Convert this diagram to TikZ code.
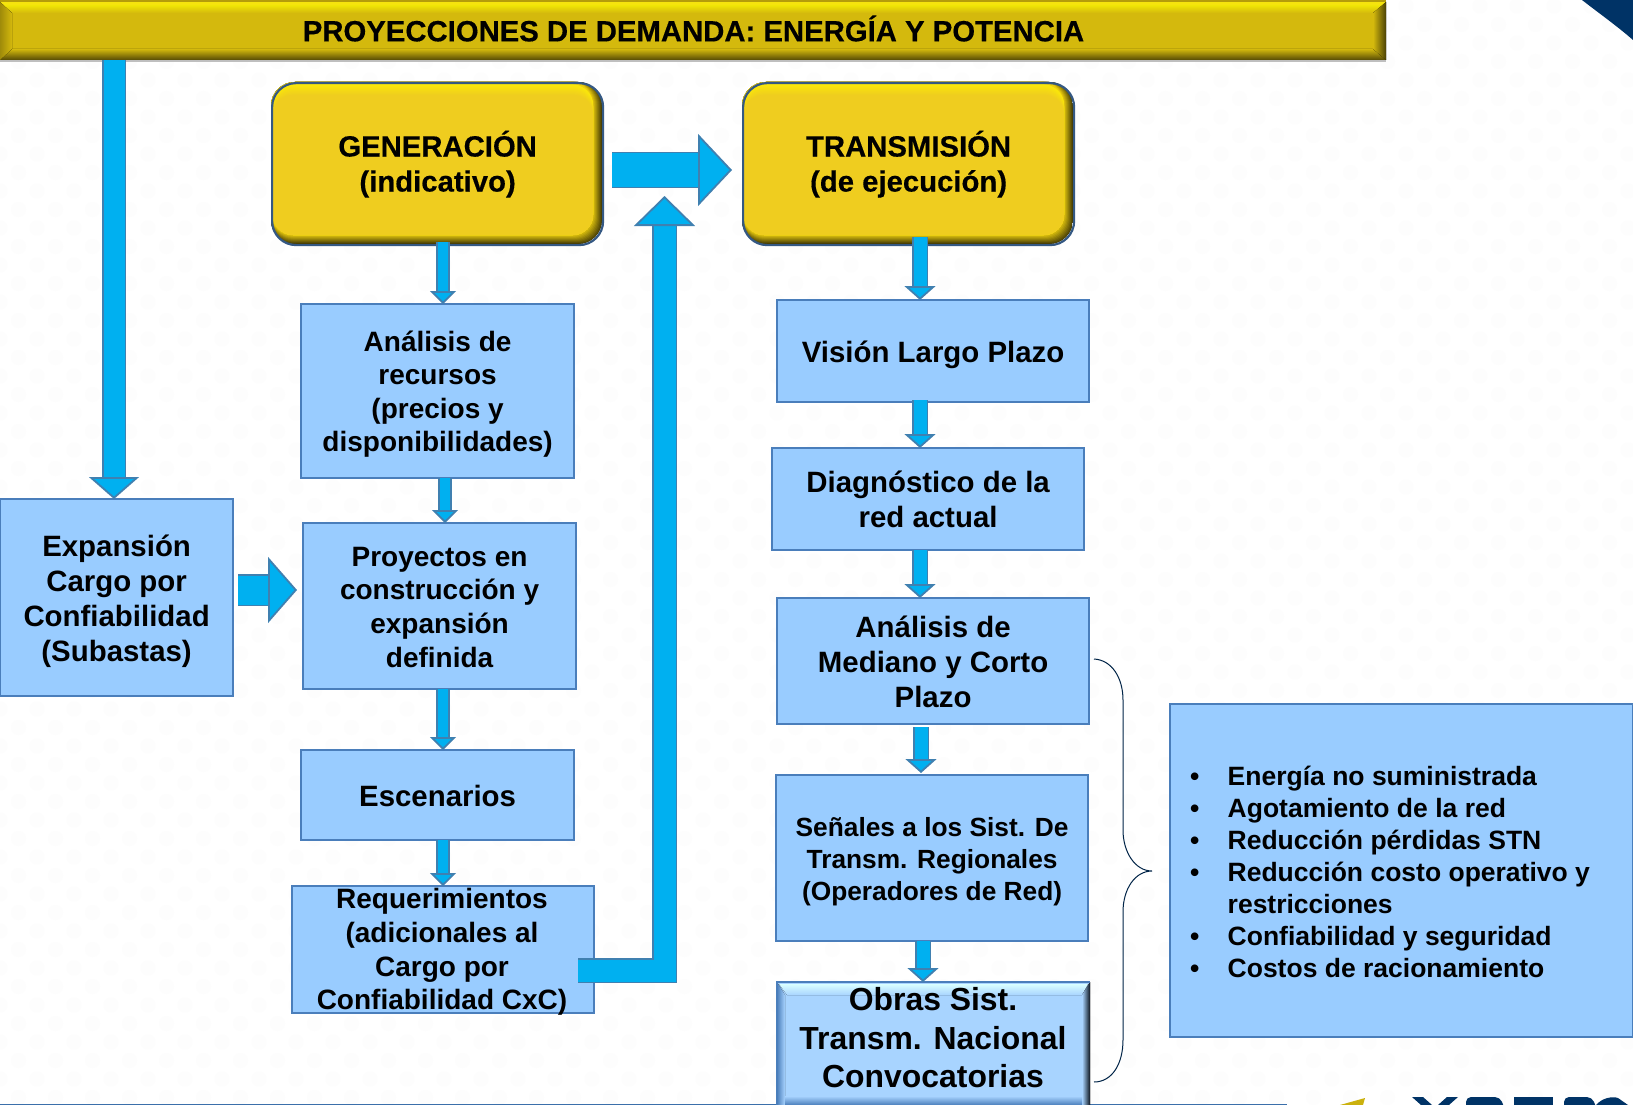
\documentclass[tikz,border=0pt]{standalone}
\usepackage{fontspec}
\setmainfont{Liberation Sans}
\newfontfamily\heavyfont{Liberation Sans}[BoldFeatures={FakeBold=0.35}]
\usetikzlibrary{arrows.meta,shadings,calc,positioning}
\definecolor{boxfill}{HTML}{99CCFF}
\definecolor{boxline}{HTML}{4A7EBB}
\definecolor{arrowfill}{HTML}{00B0F0}
\definecolor{arrowline}{HTML}{4080B0}
\definecolor{navy}{HTML}{003366}
\definecolor{titlefill}{HTML}{D4B90D}
\definecolor{genfill}{HTML}{EFD00F}
\tikzset{
  px/.style={x=1pt,y=-1pt},
  bluebox/.style={draw=boxline,fill=boxfill,line width=2.2pt,text=black,align=center,
     font=\fontsize{29.4}{35}\selectfont\bfseries,inner sep=0pt,anchor=north west,xshift=-1pt,yshift=1pt},
  block/.style n args={3}{draw=arrowline,line width=1.8pt,double=arrowfill,double distance=#1,
     line join=miter,-{Triangle[length=#2,width=#3,fill=arrowfill,color=arrowline,line width=1.8pt]}},
  smallarrow/.style={block={10pt}{13pt}{26pt}},
  midarrow/.style={block={13pt}{14pt}{31pt}},
  yellowtext/.style={align=center,font=\heavyfont\fontsize{29.3}{35}\selectfont\bfseries,text=black,inner sep=0pt},
  yellowbox/.style={draw=boxline!70!black,line width=2.2pt,rounded corners=24pt,minimum width=331pt,minimum height=162pt,anchor=north west,yellowtext},
}
% first line of a box, lowered: the whole text block moves down by half of #1
\newcommand{\pushdown}[2]{\setbox0=\hbox{#2}\rule{0pt}{\dimexpr\ht0+#1pt\relax}#2}
% bevelled rounded yellow face: x1 y1 x2 y2
\newcommand{\bevelface}[4]{%
  \begin{scope}
  \clip[rounded corners=24pt] (#1,#2) rectangle (#3,#4);
  \fill[black!70!genfill] (#1,#2) rectangle (#3,#4);
  \foreach \k in {0,...,9}{
    \pgfmathsetmacro{\mixv}{30+\k*7.7}
    \fill[genfill!\mixv!black,rounded corners=22pt] (#1,#2) rectangle ({#3-\k},{#4-\k});
  }
  \fill[yellow!70!genfill,rounded corners=22pt] (#1+2,#2+2) rectangle (#3-9,#4-9);
  \foreach \k in {0,...,9}{
    \pgfmathsetmacro{\mixv}{70-\k*7.7}
    \fill[yellow!\mixv!genfill,rounded corners=20pt] (#1+2,{#2+3+\k*1.1}) rectangle (#3-9,#4-9);
  }
  \end{scope}}
\begin{document}
\begin{tikzpicture}[px]
\useasboundingbox (0,0) rectangle (1633,1105);
\fill[white] (0,0) rectangle (1633,1105);
% faint dot texture of the slide background
\fill[black!0.8]
  \foreach \i in {0,...,59}{\foreach \j in {0,...,44}{
    ({\j*37+18.5*mod(\i,2)},{6+\i*18.5}) circle (7.5)}};
% corner and logo fragments
\fill[navy] (1582,0) .. controls (1600,14) and (1617,26) .. (1633,40) -- (1633,0) -- cycle;
\fill[navy!20!boxline] (0,1103.5) rectangle (1287,1105);
\begin{scope}
\clip (1290,1085) rectangle (1633,1105);
\fill[genfill!85!black] (1365,1098) -- (1363,1105) -- (1340,1105) -- cycle;
\fill[navy] (1412,1097) -- (1423,1097) -- (1432,1105) -- (1421,1105) -- cycle;
\fill[navy] (1458,1097) -- (1447,1097) -- (1438,1105) -- (1449,1105) -- cycle;
\fill[navy,rounded corners=5pt] (1466,1097) -- (1500,1097) -- (1506,1112) -- (1466,1112) -- cycle;
\fill[navy] (1514,1097) rectangle (1553,1105);
\fill[navy,rounded corners=5pt] (1564,1097) -- (1592,1097) -- (1598,1112) -- (1564,1112) -- cycle;
\fill[navy] (1596,1105) .. controls (1602,1098) and (1612,1096) .. (1618,1098) -- (1628,1105) -- cycle;
\end{scope}

% title banner
\node[minimum width=1386pt,minimum height=60pt,anchor=north west,inner sep=0pt,fill=titlefill] (title) at (0,0) {};
\fill[top color=yellow!65!titlefill,bottom color=titlefill] (3,5) -- (1383,5) -- (1373,13) -- (12,13) -- cycle;
\fill[titlefill!85!black] (0,0) rectangle (1386,2);
\fill[yellow!75!titlefill] (0,2) rectangle (1386,5);
\fill[top color=titlefill,bottom color=black!60!titlefill] (12,49) -- (1373,49) -- (1386,60) -- (0,60) -- cycle;
\fill[left color=titlefill,right color=black!65!titlefill] (1373,13) -- (1386,2) -- (1386,60) -- (1373,49) -- cycle;
\fill[left color=black!25!titlefill,right color=titlefill] (0,2) -- (12,13) -- (12,49) -- (0,60) -- cycle;
\draw[black!25,line width=1.2pt] (0,61) -- (1386,61);
\node[font=\heavyfont\fontsize{29.3}{35}\selectfont\bfseries,inner sep=0pt] (titletext) at (693.5,28.5) {PROYECCIONES DE DEMANDA: ENERGÍA Y POTENCIA};

% yellow rounded boxes
\bevelface{271}{82}{602}{244}
\bevelface{742}{82}{1073}{244}
\node[yellowbox] (gen) at (271,82) {GENERACIÓN\\(indicativo)};
\node[yellowbox] (tra) at (742,82) {TRANSMISIÓN\\(de ejecución)};

% blue boxes
\node[bluebox,font=\fontsize{28}{33.6}\selectfont\bfseries,minimum width=273pt,minimum height=174pt] (recursos) at (301,304) {\pushdown{6}{Análisis de}\\recursos\\(precios y\\disponibilidades)};
\node[bluebox,font=\fontsize{28}{33.6}\selectfont\bfseries,minimum width=273pt,minimum height=166pt] (proyectos) at (303,523) {\pushdown{2}{Proyectos en}\\construcción y\\expansión\\definida};
\node[bluebox,font=\fontsize{29.4}{33.6}\selectfont\bfseries,minimum width=273pt,minimum height=90pt] (escenarios) at (301,750) {\pushdown{2}{Escenarios}};
\node[bluebox,minimum width=302pt,minimum height=127pt] (requer) at (292,886) {};
\node[align=center,inner sep=0pt,font=\fontsize{28}{33.6}\selectfont\bfseries] (requertext) at (442,952) {Requerimientos\\(adicionales al\\Cargo por\\Confiabilidad CxC)};
\node[bluebox,minimum width=233pt,minimum height=197pt] (expansion) at (0,499) {\pushdown{8}{Expansión}\\Cargo por\\Confiabilidad\\(Subastas)};
\node[bluebox,minimum width=312pt,minimum height=102pt] (vision) at (777,300) {\pushdown{8}{Visión Largo Plazo}};
\node[bluebox,minimum width=312pt,minimum height=102pt] (diag) at (772,448) {Diagnóstico de la\\red actual};
\node[bluebox,minimum width=312pt,minimum height=126pt] (anamcp) at (777,598) {\pushdown{2}{Análisis de}\\Mediano y Corto\\Plazo};
\node[bluebox,font=\fontsize{26.3}{32}\selectfont\bfseries,minimum width=312pt,minimum height=166pt] (senales) at (776,775) {\pushdown{8}{Señales a los Sist. De}\\Transm. Regionales\\(Operadores de Red)};

% bevelled box
\node[minimum width=313pt,minimum height=123pt,anchor=north west,inner sep=0pt,fill=boxfill!85!white] (obras) at (777,982) {};
\fill[top color=cyan!15!white,bottom color=boxfill!85!white] (779,984) -- (1088,984) -- (1082,995) -- (787,995) -- cycle;
\fill[left color=boxline,right color=boxfill!85!white] (777,982) -- (785,995) -- (785,1105) -- (777,1105) -- cycle;
\fill[left color=boxfill!85!white,right color=black!85!boxline] (1082,995) -- (1090,982) -- (1090,1105) -- (1082,1105) -- cycle;
\fill[top color=boxfill!85!white,bottom color=boxline] (785,1096) rectangle (1082,1105);
\draw[boxline,line width=1.2pt] (777,1105) -- (777,982) -- (1090,982);
\node[align=center,font=\fontsize{31.9}{38.5}\selectfont\bfseries,inner sep=0pt] (obrastext) at (933,1038) {Obras Sist.\\Transm. Nacional\\Convocatorias};

% right-hand list
\node[draw=boxline,fill=boxfill,line width=2.2pt,minimum width=463pt,minimum height=333pt,anchor=north west,inner sep=0pt,xshift=-1pt,yshift=1pt] (lista) at (1170,704) {};
\node[anchor=north west,inner sep=0pt,font=\fontsize{26.5}{32}\selectfont\bfseries,align=left] (listatext) at (1190,763) {%
  \begin{tabular}{@{}p{37.5pt}@{}l@{}}
  \textbullet & Energía no suministrada\\
  \textbullet & Agotamiento de la red\\
  \textbullet & Reducción pérdidas STN\\
  \textbullet & Reducción costo operativo y\\
   & restricciones\\
  \textbullet & Confiabilidad y seguridad\\
  \textbullet & Costos de racionamiento
  \end{tabular}};

% brace
\coordinate (bracetop) at (1094,659);
\coordinate (bracetip) at (1152,871);
\coordinate (bracebot) at (1094,1082);
\draw[navy!70!black,line width=1pt] (bracetop) .. controls (1112,660) and (1123,678) .. (1123,700)
  -- (1123,830) .. controls (1123,852) and (1135,871) .. (bracetip)
  .. controls (1135,871) and (1123,889) .. (1123,912)
  -- (1123,1040) .. controls (1123,1064) and (1112,1082) .. (bracebot);

% connectors
\draw[block={21pt}{22pt}{50pt}] (114,60) -- (114,499);
\draw[smallarrow] (443,242) -- (443,304);
\draw[smallarrow] (445,478) -- (445,523);
\draw[smallarrow] (443,689) -- (443,750);
\draw[smallarrow] (443,840) -- (443,886);
\draw[block={33pt}{34pt}{72pt}] (612,170) -- (732,170);
\draw[block={29pt}{29pt}{66pt}] (238,590) -- (297,590);
\draw[midarrow] (920,237) -- (920,300);
\draw[midarrow] (920,400) -- (920,448);
\draw[midarrow] (920,550) -- (920,598);
\draw[midarrow] (921,727) -- (921,773);
\draw[midarrow] (923,941) -- (923,982);
\draw[block={22pt}{30pt}{61pt}] (578,970.5) -- (664.5,970.5) -- (664.5,196);
\end{tikzpicture}
\end{document}
